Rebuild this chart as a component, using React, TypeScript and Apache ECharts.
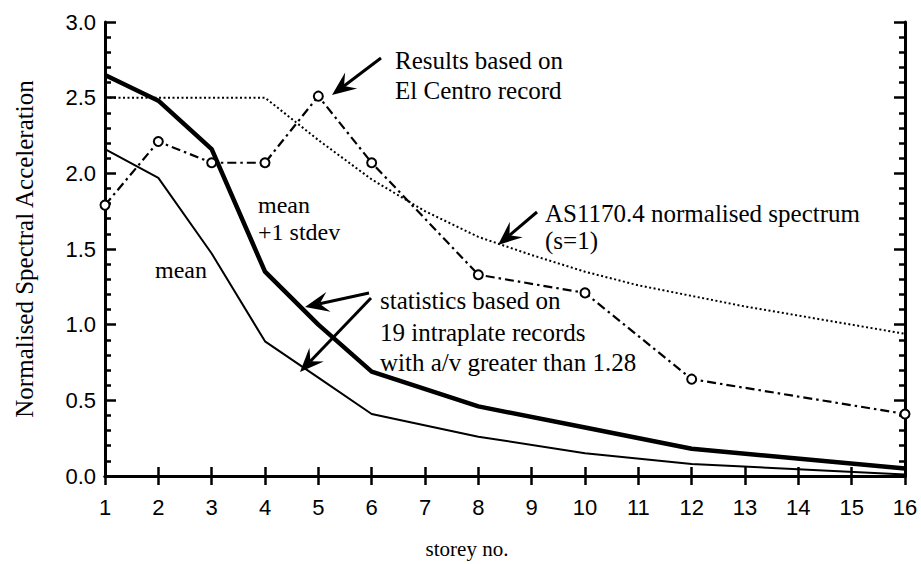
import React, { useEffect, useRef } from "react";
import * as echarts from "echarts";

// ---- data ----
const storeys = [1, 2, 3, 4, 5, 6, 8, 10, 12, 16];
const meanPlusOneSd = [2.65, 2.48, 2.16, 1.35, 1.0, 0.69, 0.46, 0.32, 0.18, 0.05];
const meanValues = [2.16, 1.97, 1.47, 0.89, 0.65, 0.41, 0.26, 0.15, 0.08, 0.01];
const elCentro = [1.79, 2.21, 2.07, 2.07, 2.51, 2.07, 1.33, 1.21, 0.64, 0.41];
const asStoreys = [1, 2, 3, 4, 5, 6, 7, 8, 9, 10, 11, 12, 13, 14, 15, 16];
const asSpectrum = [2.5, 2.5, 2.5, 2.5, 2.22, 1.96, 1.75, 1.58, 1.46, 1.35, 1.26, 1.19, 1.12, 1.06, 1.0, 0.94];
const xMin = 1;
const xMax = 16;
const yMin = 0;
const yMax = 3;
const yStep = 0.5;

const SERIF = '"Liberation Serif", "Times New Roman", serif';
const SANS = '"Liberation Sans", Arial, sans-serif';

function arrow(x1: number, y1: number, x2: number, y2: number) {
  const dx = x2 - x1;
  const dy = y2 - y1;
  const L = Math.hypot(dx, dy);
  const ux = dx / L;
  const uy = dy / L;
  const px = -uy;
  const py = ux;
  const headLen = 24;
  const headW = 10;
  const notch = 15;
  const bx = x2 - ux * headLen;
  const by = y2 - uy * headLen;
  const nx = x2 - ux * notch;
  const ny = y2 - uy * notch;
  return [
    {
      type: "line",
      shape: { x1, y1, x2: nx, y2: ny },
      style: { stroke: "#000", lineWidth: 3 },
      z: 100,
    },
    {
      type: "polygon",
      shape: {
        points: [
          [x2, y2],
          [bx + px * headW, by + py * headW],
          [nx, ny],
          [bx - px * headW, by - py * headW],
        ],
      },
      style: { fill: "#000" },
      z: 100,
    },
  ];
}

function label(text: string, x: number, y: number, size = 25) {
  return {
    type: "text",
    x,
    y,
    z: 100,
    style: {
      text,
      fill: "#000",
      fontSize: size,
      fontFamily: SERIF,
      align: "left",
      verticalAlign: "middle",
    },
  };
}

export default function App() {
  const ref = useRef<HTMLDivElement>(null);

  useEffect(() => {
    if (!ref.current) return;
    const chart = echarts.init(ref.current, undefined, { renderer: "svg" });

    const axisLine = { show: true, lineStyle: { color: "#000", width: 3 } };
    const xTick = { show: true, inside: true, length: 9, lineStyle: { color: "#000", width: 2.5 } };
    const yTick = { show: true, inside: true, length: 11, lineStyle: { color: "#000", width: 2.5 } };
    const yMinor = { show: true, splitNumber: 5, length: 6, lineStyle: { color: "#000", width: 2.5 } };

    const option: any = {
      animation: false,
      backgroundColor: "#fff",
      grid: { left: 105, right: 16, top: 22, bottom: 84, containLabel: false },
      xAxis: [
        {
          type: "value",
          min: xMin,
          max: xMax,
          interval: 1,
          position: "bottom",
          axisLine,
          axisTick: xTick,
          splitLine: { show: false },
          axisLabel: { color: "#000", fontSize: 22, fontFamily: SANS, margin: 20 },
          name: "storey no.",
          nameLocation: "middle",
          nameGap: 62,
          nameTextStyle: { color: "#000", fontSize: 21, fontFamily: SERIF, padding: [0, 76, 0, 0] },
        },
        {
          type: "value",
          min: xMin,
          max: xMax,
          interval: 1,
          position: "top",
          axisLine,
          axisTick: xTick,
          splitLine: { show: false },
          axisLabel: { show: false },
        },
      ],
      yAxis: [
        {
          type: "value",
          min: yMin,
          max: yMax,
          interval: yStep,
          position: "left",
          axisLine,
          axisTick: yTick,
          minorTick: yMinor,
          splitLine: { show: false },
          minorSplitLine: { show: false },
          axisLabel: {
            color: "#000",
            fontSize: 22,
            fontFamily: SANS,
            margin: 9,
            formatter: (v: number) => v.toFixed(1),
          },
          name: "Normalised Spectral Acceleration",
          nameLocation: "middle",
          nameRotate: 90,
          nameGap: 68,
          nameTextStyle: { color: "#000", fontSize: 25, fontFamily: SERIF },
        },
        {
          type: "value",
          min: yMin,
          max: yMax,
          interval: yStep,
          position: "right",
          axisLine,
          axisTick: yTick,
          minorTick: yMinor,
          splitLine: { show: false },
          minorSplitLine: { show: false },
          axisLabel: { show: false },
        },
      ],
      series: [
        {
          name: "AS1170.4 normalised spectrum (s=1)",
          type: "line",
          data: asStoreys.map((s, i) => [s, asSpectrum[i]]),
          symbol: "none",
          lineStyle: { color: "#000", width: 2, type: [2, 2.5] },
          z: 2,
        },
        {
          name: "mean",
          type: "line",
          data: storeys.map((s, i) => [s, meanValues[i]]),
          symbol: "none",
          lineStyle: { color: "#000", width: 2 },
          z: 3,
        },
        {
          name: "mean +1 stdev",
          type: "line",
          data: storeys.map((s, i) => [s, meanPlusOneSd[i]]),
          symbol: "none",
          lineStyle: { color: "#000", width: 4.5 },
          z: 4,
        },
        {
          name: "El Centro",
          type: "line",
          data: storeys.map((s, i) => [s, elCentro[i]]),
          symbol: "emptyCircle",
          symbolSize: 9,
          itemStyle: { color: "#000", borderColor: "#000", borderWidth: 2 },
          lineStyle: { color: "#000", width: 2.2, type: [9, 4, 2.5, 4] },
          z: 5,
        },
      ],
      graphic: [
        label("Results based on", 395, 60),
        label("El Centro record", 395, 90),
        ...arrow(381, 58, 332, 95),
        label("AS1170.4 normalised spectrum", 545, 213),
        label("(s=1)", 545, 240),
        ...arrow(537, 212, 498, 245),
        label("mean", 258, 205, 24),
        label("+1 stdev", 258, 232, 24),
        label("mean", 155, 270, 24),
        label("statistics based on", 380, 300),
        label("19 intraplate records", 380, 332),
        label("with a/v greater than 1.28", 380, 362),
        ...arrow(369, 293, 305, 307),
        ...arrow(371, 298, 300, 372),
      ],
    };

    chart.setOption(option);
    return () => chart.dispose();
  }, []);

  return (
    <div
      ref={ref}
      style={{ position: "fixed", left: 0, top: 0, width: 921, height: 564, background: "#fff" }}
    />
  );
}
